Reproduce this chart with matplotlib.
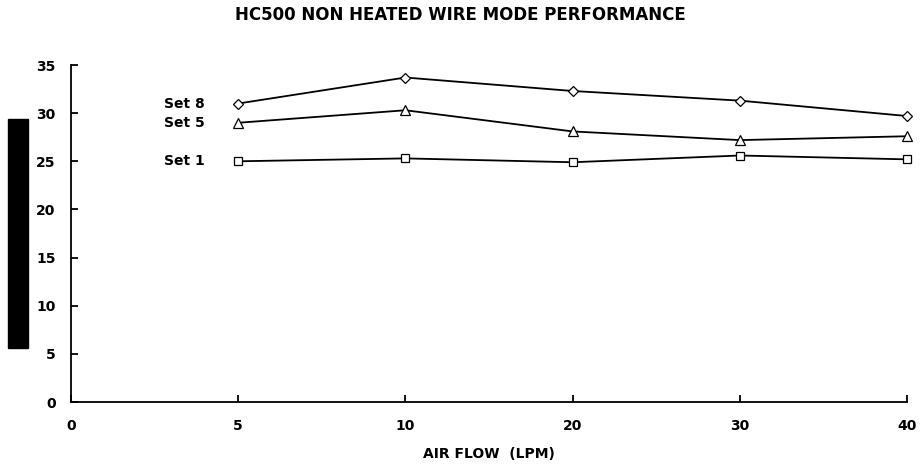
import numpy as np
from matplotlib import pyplot as plt
from matplotlib.patches import Rectangle

plt.rcParams['font.family'] = ['DejaVu Sans']
plt.rcParams['font.weight'] = 'bold'

# data
flow_labels = ['0', '5', '10', '20', '30', '40']
flow_pos = [1, 2, 3, 4, 5]          # 5,10,20,30,40 drawn evenly spaced
set8 = [31.0, 33.7, 32.3, 31.3, 29.7]
set5 = [29.0, 30.3, 28.1, 27.2, 27.6]
set1 = [25.0, 25.3, 24.9, 25.6, 25.2]

fig = plt.figure(figsize=(9.21, 4.69), dpi=100)
ax = fig.add_axes([71/921, 67/469, 836/921, 337/469])

series = [('Set 8', set8, 'D', 5), ('Set 5', set5, '^', 6.5), ('Set 1', set1, 's', 6)]
for name, vals, mk, ms in series:
    ax.plot(flow_pos, vals, color='black', lw=1.3, marker=mk, ms=ms,
            mfc='white', mec='black', mew=0.9, clip_on=False)
    ax.annotate(name, (flow_pos[0], vals[0]), xytext=(-24, 0),
                textcoords='offset points', ha='right', va='center',
                fontsize=10, fontweight='bold')

ax.set_xlim(0, 5)
ax.set_ylim(0, 35)
ax.set_xticks(range(len(flow_labels)))
ax.set_xticklabels(flow_labels)
ax.set_yticks(np.arange(0, 36, 5))
ax.tick_params(direction='in', length=5, width=1.3, labelsize=10)
ax.tick_params(axis='x', pad=12)
ax.tick_params(axis='y', pad=11)
for lab in ax.get_xticklabels() + ax.get_yticklabels():
    lab.set_fontweight('bold')

ax.spines['top'].set_visible(False)
ax.spines['right'].set_visible(False)
ax.spines['left'].set_linewidth(1.3)
ax.spines['bottom'].set_linewidth(1.3)

ax.set_xlabel('AIR FLOW  (LPM)', fontsize=10, fontweight='bold', labelpad=10)
fig.text(0.5, 1 - 15/469, 'HC500 NON HEATED WIRE MODE PERFORMANCE',
         ha='center', va='center', fontsize=12, fontweight='bold')

# black block left of y axis
fig.patches.append(Rectangle((8/921, 1 - 348/469), 20/921, 229/469,
                             transform=fig.transFigure, color='black'))

fig.savefig('out.png', dpi=100)
